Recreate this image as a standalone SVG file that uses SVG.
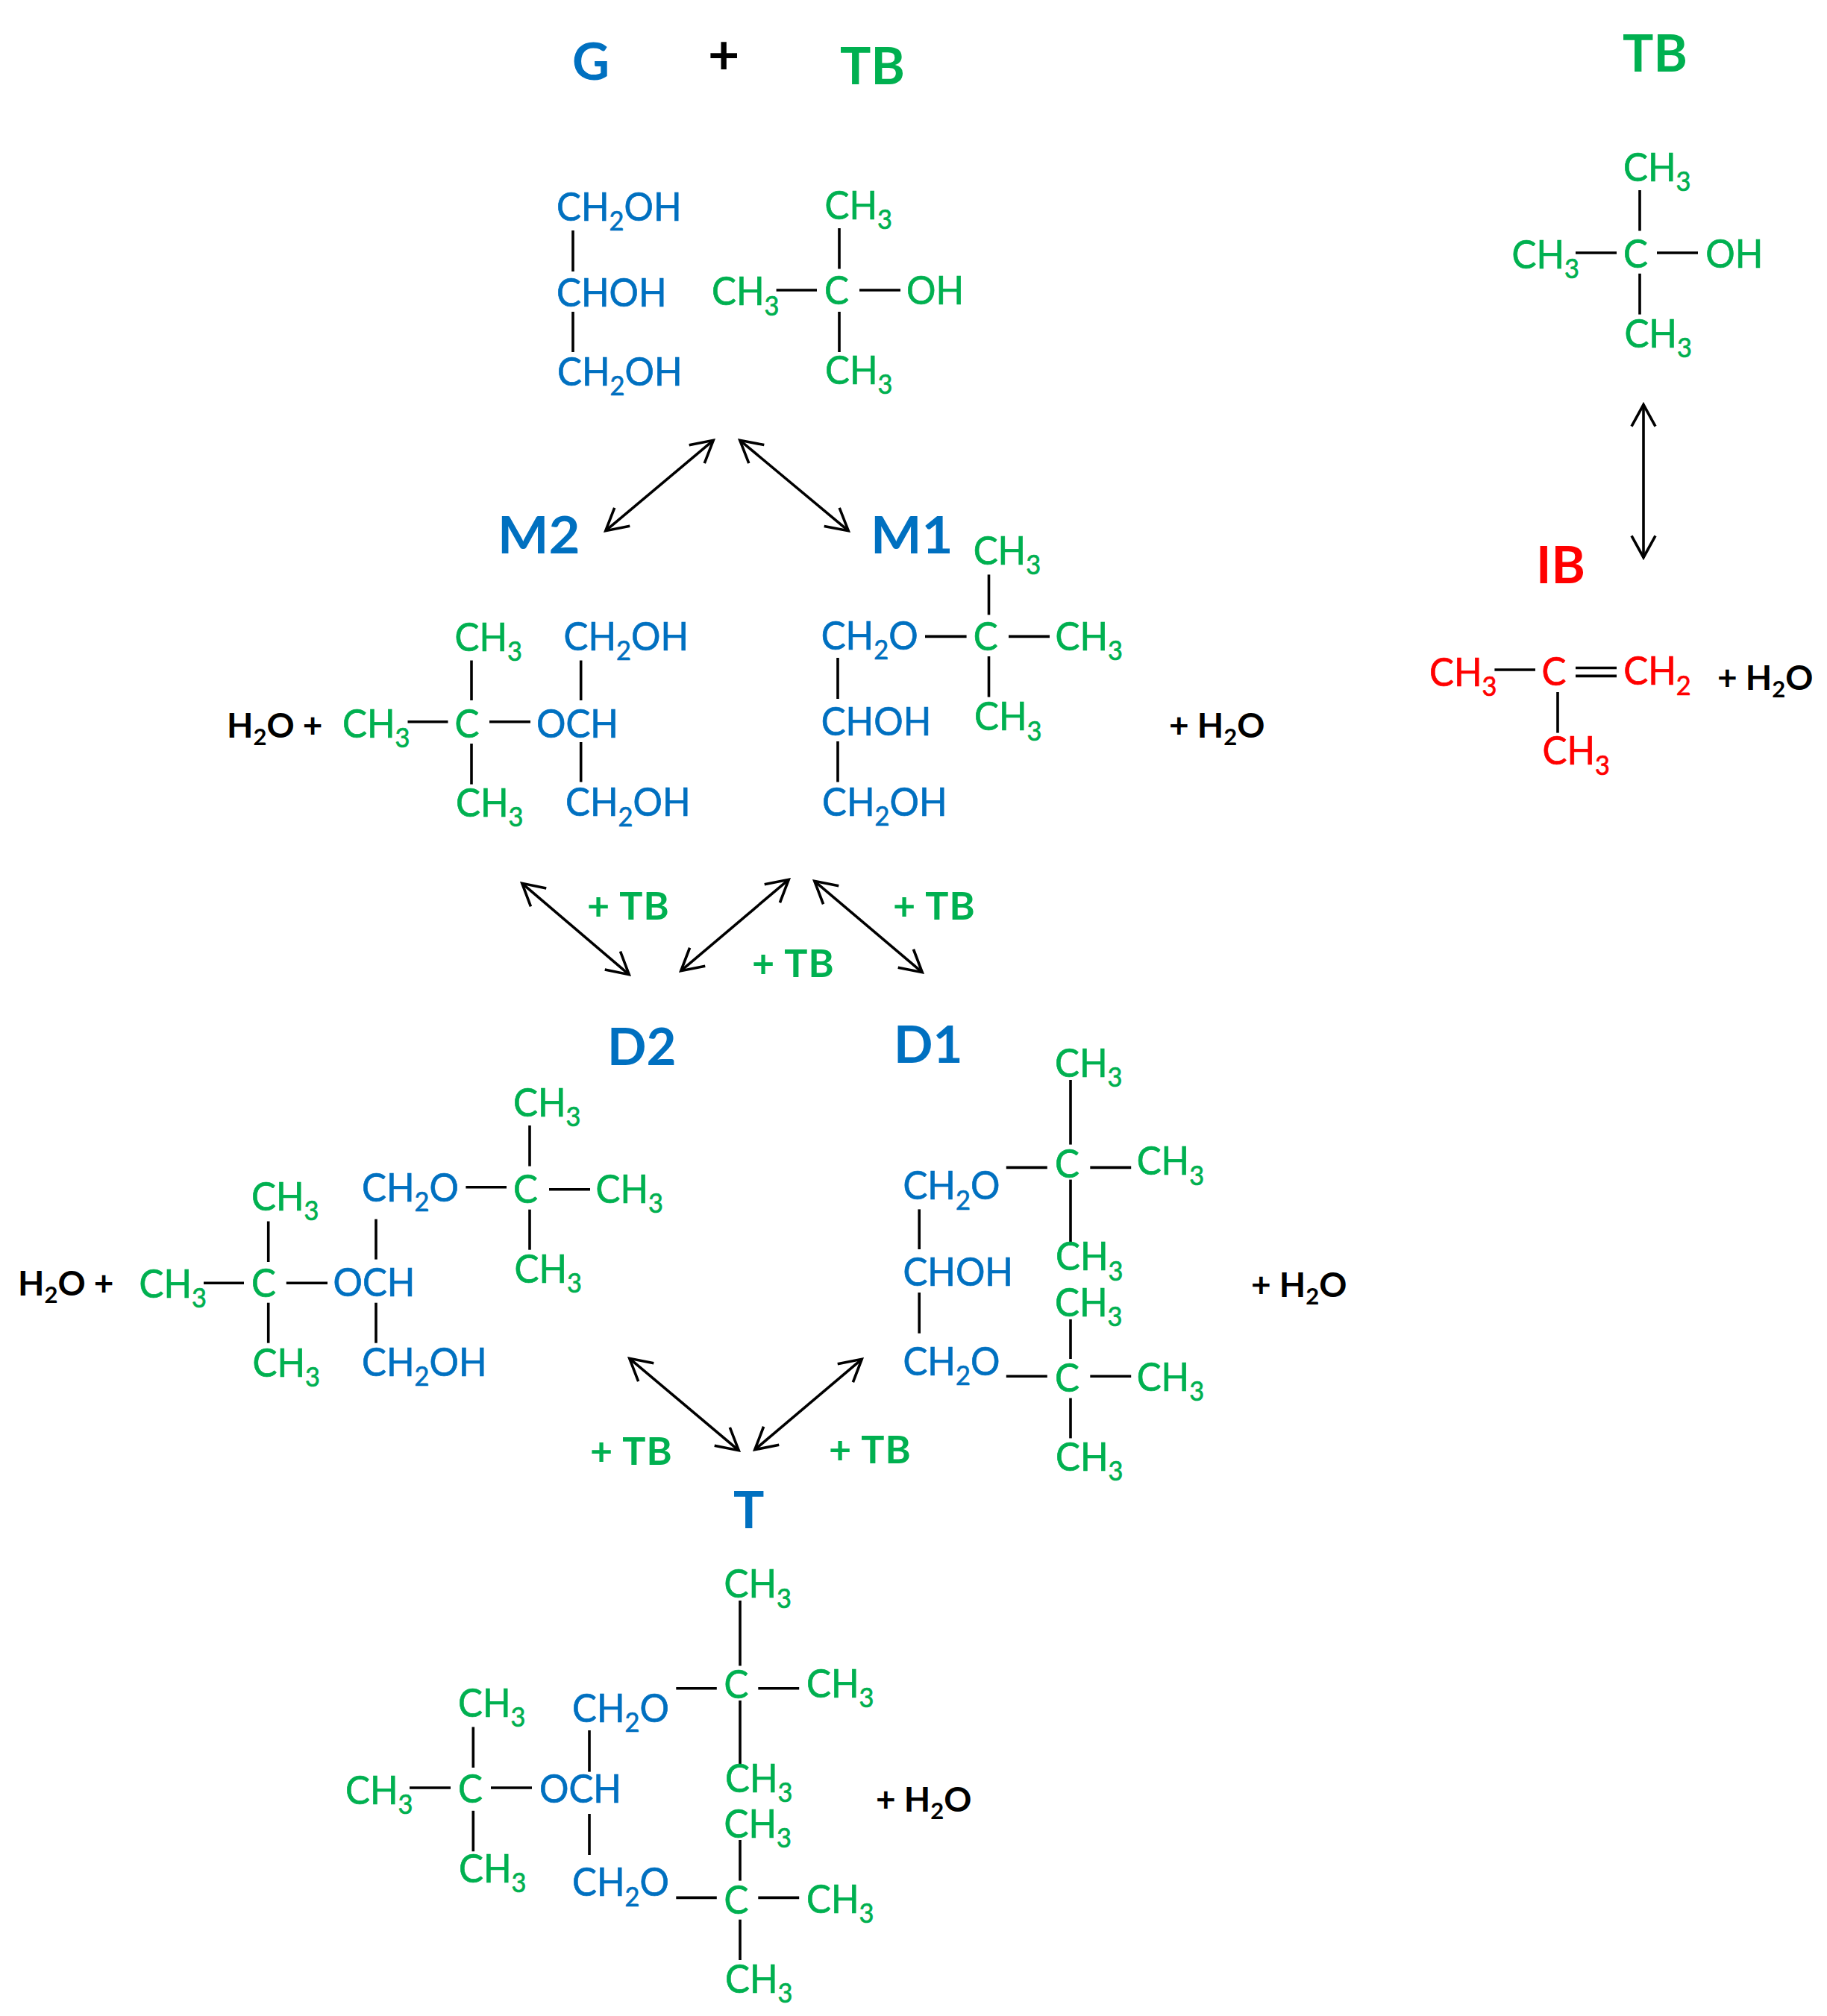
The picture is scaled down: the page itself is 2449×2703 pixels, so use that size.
<svg xmlns="http://www.w3.org/2000/svg" width="2449" height="2703" viewBox="0 0 2449 2703">
<style>
text{font-family:"Lato","Carlito","Noto Sans",sans-serif;white-space:pre;stroke-width:0}
.t{font-size:53px;stroke-width:.7;transform-box:fill-box;transform-origin:0% 50%;transform:scaleX(.93)}
.l{font-size:69px;font-weight:700}
.m{transform-box:fill-box;transform-origin:0% 50%;transform:scaleX(1.05)}
.p{font-size:52px;font-weight:700;letter-spacing:1px}
.w{font-size:46px;font-weight:700;fill:#000}
.s{font-size:37px}
.w .s{font-size:31px}
.b{fill:#0070C0;stroke:#0070C0}.g{fill:#00B050;stroke:#00B050}.r{fill:#FF0000;stroke:#FF0000}
line{stroke:#000;stroke-width:3.6;fill:none}
.a{marker-start:url(#h);marker-end:url(#h)}
</style>
<defs><marker id="h" markerUnits="userSpaceOnUse" markerWidth="40" markerHeight="44" refX="36" refY="20" orient="auto-start-reverse" overflow="visible"><path d="M7,4 L36,20 L7,36" fill="none" stroke="#000" stroke-width="3.6"/></marker></defs>
<rect width="2449" height="2703" fill="#fff"/>
<g id="connectors">
<g id="arrows">
<line class="a" x1="956.200" y1="590.300" x2="811.800" y2="711.700"/>
<line class="a" x1="991.800" y1="590.300" x2="1137.200" y2="711.700"/>
<line class="a" x1="699.800" y1="1184.300" x2="843.200" y2="1306.700"/>
<line class="a" x1="1057.200" y1="1179.300" x2="912.800" y2="1301.700"/>
<line class="a" x1="1091.800" y1="1181.300" x2="1236.200" y2="1303.700"/>
<line class="a" x1="843.800" y1="1821.300" x2="990.200" y2="1944.700"/>
<line class="a" x1="1155.200" y1="1822.300" x2="1011.800" y2="1943.700"/>
<line class="a" x1="2203" y1="542.600" x2="2203" y2="747.400"/>
</g>
<g id="bonds">
<line x1="768" y1="309" x2="768" y2="364"/><line x1="768" y1="418" x2="768" y2="472"/>
<line x1="1125" y1="306" x2="1125" y2="360.500"/><line x1="1125" y1="418" x2="1125" y2="472"/>
<line x1="1040.600" y1="389" x2="1095" y2="389"/><line x1="1152" y1="389" x2="1207" y2="389"/>
<line x1="2198" y1="255" x2="2198" y2="309.500"/><line x1="2198" y1="366.800" x2="2198" y2="421.600"/>
<line x1="2112" y1="339" x2="2167" y2="339"/><line x1="2221" y1="339" x2="2276" y2="339"/>
<line x1="2003.400" y1="898" x2="2058" y2="898"/><line x1="2112" y1="895.500" x2="2167" y2="895.500"/><line x1="2112" y1="906.400" x2="2167" y2="906.400"/>
<line x1="2088" y1="928" x2="2088" y2="982.600"/>
<line x1="632" y1="885.500" x2="632" y2="939"/><line x1="632" y1="997" x2="632" y2="1051.600"/>
<line x1="546.500" y1="967.700" x2="600.500" y2="967.700"/><line x1="656" y1="967.700" x2="711" y2="967.700"/>
<line x1="778.700" y1="885.500" x2="778.700" y2="939"/><line x1="778.700" y1="995" x2="778.700" y2="1048.500"/>
<line x1="1325.500" y1="770.400" x2="1325.500" y2="824.400"/><line x1="1325.500" y1="880" x2="1325.500" y2="934.600"/>
<line x1="1240" y1="853.400" x2="1295.600" y2="853.400"/><line x1="1352" y1="853.400" x2="1407" y2="853.400"/>
<line x1="1123" y1="882" x2="1123" y2="937"/><line x1="1123" y1="994" x2="1123" y2="1048.500"/>
<line x1="710" y1="1509" x2="710" y2="1563.600"/><line x1="710" y1="1621.700" x2="710" y2="1675.700"/>
<line x1="624.400" y1="1591.800" x2="679" y2="1591.800"/><line x1="736" y1="1594.700" x2="791" y2="1594.700"/>
<line x1="359.700" y1="1637.500" x2="359.700" y2="1692"/><line x1="359.700" y1="1746.700" x2="359.700" y2="1800.700"/>
<line x1="273" y1="1720.300" x2="327" y2="1720.300"/><line x1="383.800" y1="1720.300" x2="439" y2="1720.300"/>
<line x1="504" y1="1634.600" x2="504" y2="1688.600"/><line x1="504" y1="1746.700" x2="504" y2="1800.700"/>
<line x1="1435" y1="1448" x2="1435" y2="1534.600"/><line x1="1435" y1="1581.600" x2="1435" y2="1669.500"/>
<line x1="1435" y1="1768.900" x2="1435" y2="1822"/><line x1="1435" y1="1874.500" x2="1435" y2="1928.400"/>
<line x1="1348.800" y1="1565.400" x2="1403.800" y2="1565.400"/><line x1="1461.300" y1="1565.400" x2="1516.200" y2="1565.400"/>
<line x1="1348.800" y1="1845.200" x2="1403.800" y2="1845.200"/><line x1="1461.300" y1="1845.200" x2="1516.200" y2="1845.200"/>
<line x1="1232.200" y1="1621.400" x2="1232.200" y2="1675"/><line x1="1232.200" y1="1733" x2="1232.200" y2="1787.700"/>
<line x1="992" y1="2146" x2="992" y2="2233.500"/><line x1="992" y1="2280" x2="992" y2="2367.600"/>
<line x1="992" y1="2467" x2="992" y2="2521.600"/><line x1="992" y1="2573.700" x2="992" y2="2628"/>
<line x1="906.300" y1="2263.800" x2="960.800" y2="2263.800"/><line x1="1016.300" y1="2263.800" x2="1071.200" y2="2263.800"/>
<line x1="906.300" y1="2544.400" x2="960.800" y2="2544.400"/><line x1="1016.300" y1="2544.400" x2="1071.200" y2="2544.400"/>
<line x1="634.300" y1="2315.500" x2="634.300" y2="2370"/><line x1="634.300" y1="2427.800" x2="634.300" y2="2482.300"/>
<line x1="549" y1="2397" x2="604" y2="2397"/><line x1="658" y1="2397" x2="713" y2="2397"/>
<line x1="790" y1="2320" x2="790" y2="2375.600"/><line x1="790" y1="2432" x2="790" y2="2487"/>
</g>
</g>
<g id="node-G">
<text class="l b" x="767" y="107">G</text>
<text class="t b" x="746" y="295.600">CH<tspan class="s" dy="13.500">2</tspan><tspan dy="-13.500">OH</tspan></text>
<text class="t b" x="746" y="411">CHOH</text>
<text class="t b" x="747" y="517">CH<tspan class="s" dy="13.500">2</tspan><tspan dy="-13.500">OH</tspan></text>
</g>
<g id="node-plus"><text class="l" x="949" y="99" fill="#000" style="font-size:73px">+</text></g>
<g id="node-TB">
<text class="l g" x="1126" y="112.500">TB</text>
<text class="t g" x="1105.500" y="294">CH<tspan class="s" dy="13.500">3</tspan></text>
<text class="t g" x="954" y="409.500">CH<tspan class="s" dy="13.500">3</tspan></text>
<text class="t g" x="1105" y="408">C</text>
<text class="t g" x="1215" y="408">OH</text>
<text class="t g" x="1106" y="515">CH<tspan class="s" dy="13.500">3</tspan></text>
</g>
<g id="node-TB-side">
<text class="l g" x="2175" y="96">TB</text>
<text class="t g" x="2176" y="243">CH<tspan class="s" dy="13.500">3</tspan></text>
<text class="t g" x="2026.500" y="360">CH<tspan class="s" dy="13.500">3</tspan></text>
<text class="t g" x="2176" y="359">C</text>
<text class="t g" x="2286.300" y="359">OH</text>
<text class="t g" x="2177.400" y="466">CH<tspan class="s" dy="13.500">3</tspan></text>
</g>
<g id="node-IB">
<text class="l r" x="2059" y="782.300">IB</text>
<text class="t r" x="1916" y="920">CH<tspan class="s" dy="13.500">3</tspan></text>
<text class="t r" x="2066.400" y="919">C</text>
<text class="t r" x="2176.300" y="918.400">CH<tspan class="s" dy="13.500">2</tspan></text>
<text class="t r" x="2067.500" y="1025.400">CH<tspan class="s" dy="13.500">3</tspan></text>
<text class="w" x="2302" y="924.500">+ H<tspan class="s" dy="10">2</tspan><tspan dy="-10">O</tspan></text>
</g>
<g id="node-M2">
<text class="l b m" x="667" y="742">M2</text>
<text class="w" x="304" y="989">H<tspan class="s" dy="10">2</tspan><tspan dy="-10">O +</tspan></text>
<text class="t g" x="459" y="989">CH<tspan class="s" dy="13.500">3</tspan></text>
<text class="t g" x="609.600" y="989">C</text>
<text class="t b" x="719" y="989">OCH</text>
<text class="t g" x="609.600" y="873">CH<tspan class="s" dy="13.500">3</tspan></text>
<text class="t b" x="755.600" y="872">CH<tspan class="s" dy="13.500">2</tspan><tspan dy="-13.500">OH</tspan></text>
<text class="t g" x="611" y="1095">CH<tspan class="s" dy="13.500">3</tspan></text>
<text class="t b" x="758" y="1094.500">CH<tspan class="s" dy="13.500">2</tspan><tspan dy="-13.500">OH</tspan></text>
</g>
<g id="node-M1">
<text class="l b m" x="1167" y="742">M1</text>
<text class="t g" x="1304.700" y="757">CH<tspan class="s" dy="13.500">3</tspan></text>
<text class="t b" x="1100.700" y="871">CH<tspan class="s" dy="13.500">2</tspan><tspan dy="-13.500">O</tspan></text>
<text class="t g" x="1304.700" y="872">C</text>
<text class="t g" x="1414.500" y="872">CH<tspan class="s" dy="13.500">3</tspan></text>
<text class="t g" x="1306" y="979.300">CH<tspan class="s" dy="13.500">3</tspan></text>
<text class="t b" x="1100.700" y="986.400">CHOH</text>
<text class="t b" x="1102" y="1093.600">CH<tspan class="s" dy="13.500">2</tspan><tspan dy="-13.500">OH</tspan></text>
<text class="w" x="1567" y="989">+ H<tspan class="s" dy="10">2</tspan><tspan dy="-10">O</tspan></text>
</g>
<g id="labels-TB">
<text class="p g" x="787" y="1233">+ TB</text>
<text class="p g" x="1197" y="1233">+ TB</text>
<text class="p g" x="1008" y="1310">+ TB</text>
<text class="p g" x="791" y="1964">+ TB</text>
<text class="p g" x="1111" y="1962">+ TB</text>
</g>
<g id="node-D2">
<text class="l b" x="814" y="1428">D2</text>
<text class="t g" x="688" y="1496.700">CH<tspan class="s" dy="13.500">3</tspan></text>
<text class="t b" x="485" y="1611">CH<tspan class="s" dy="13.500">2</tspan><tspan dy="-13.500">O</tspan></text>
<text class="t g" x="688" y="1613">C</text>
<text class="t g" x="798.600" y="1613">CH<tspan class="s" dy="13.500">3</tspan></text>
<text class="t g" x="689.500" y="1719.700">CH<tspan class="s" dy="13.500">3</tspan></text>
<text class="t g" x="337" y="1622.900">CH<tspan class="s" dy="13.500">3</tspan></text>
<text class="t g" x="186.600" y="1740">CH<tspan class="s" dy="13.500">3</tspan></text>
<text class="t g" x="337" y="1739">C</text>
<text class="t b" x="446.500" y="1738">OCH</text>
<text class="w" x="24" y="1737.300">H<tspan class="s" dy="10">2</tspan><tspan dy="-10">O +</tspan></text>
<text class="t g" x="338.500" y="1846">CH<tspan class="s" dy="13.500">3</tspan></text>
<text class="t b" x="485" y="1844.700">CH<tspan class="s" dy="13.500">2</tspan><tspan dy="-13.500">OH</tspan></text>
</g>
<g id="node-D1">
<text class="l b" x="1198" y="1424.700">D1</text>
<text class="t g" x="1414" y="1443.600">CH<tspan class="s" dy="13.500">3</tspan></text>
<text class="t g" x="1414" y="1579.500">C</text>
<text class="t g" x="1523.700" y="1575.400">CH<tspan class="s" dy="13.500">3</tspan></text>
<text class="t g" x="1415" y="1703.500">CH<tspan class="s" dy="13.500">3</tspan></text>
<text class="t b" x="1210.400" y="1608.300">CH<tspan class="s" dy="13.500">2</tspan><tspan dy="-13.500">O</tspan></text>
<text class="t b" x="1210.400" y="1724.400">CHOH</text>
<text class="t g" x="1414" y="1764.700">CH<tspan class="s" dy="13.500">3</tspan></text>
<text class="t b" x="1210.400" y="1843.700">CH<tspan class="s" dy="13.500">2</tspan><tspan dy="-13.500">O</tspan></text>
<text class="t g" x="1414" y="1865.600">C</text>
<text class="t g" x="1523.700" y="1864.600">CH<tspan class="s" dy="13.500">3</tspan></text>
<text class="t g" x="1415" y="1971.800">CH<tspan class="s" dy="13.500">3</tspan></text>
<text class="w" x="1677" y="1738.500">+ H<tspan class="s" dy="10">2</tspan><tspan dy="-10">O</tspan></text>
</g>
<g id="node-T">
<text class="l b" x="983" y="2049">T</text>
<text class="t g" x="970.600" y="2142.500">CH<tspan class="s" dy="13.500">3</tspan></text>
<text class="t g" x="970.600" y="2277.500">C</text>
<text class="t g" x="1081" y="2275.600">CH<tspan class="s" dy="13.500">3</tspan></text>
<text class="t g" x="972" y="2403">CH<tspan class="s" dy="13.500">3</tspan></text>
<text class="t g" x="970.600" y="2463.800">CH<tspan class="s" dy="13.500">3</tspan></text>
<text class="t g" x="970.600" y="2565.700">C</text>
<text class="t g" x="1081" y="2564.700">CH<tspan class="s" dy="13.500">3</tspan></text>
<text class="t g" x="972" y="2671.800">CH<tspan class="s" dy="13.500">3</tspan></text>
<text class="t b" x="767" y="2308.800">CH<tspan class="s" dy="13.500">2</tspan><tspan dy="-13.500">O</tspan></text>
<text class="t b" x="767" y="2542.500">CH<tspan class="s" dy="13.500">2</tspan><tspan dy="-13.500">O</tspan></text>
<text class="t b" x="723" y="2417">OCH</text>
<text class="t g" x="614" y="2417">C</text>
<text class="t g" x="463" y="2418.800">CH<tspan class="s" dy="13.500">3</tspan></text>
<text class="t g" x="614" y="2302">CH<tspan class="s" dy="13.500">3</tspan></text>
<text class="t g" x="615" y="2524">CH<tspan class="s" dy="13.500">3</tspan></text>
<text class="w" x="1174" y="2429">+ H<tspan class="s" dy="10">2</tspan><tspan dy="-10">O</tspan></text>
</g>
</svg>
